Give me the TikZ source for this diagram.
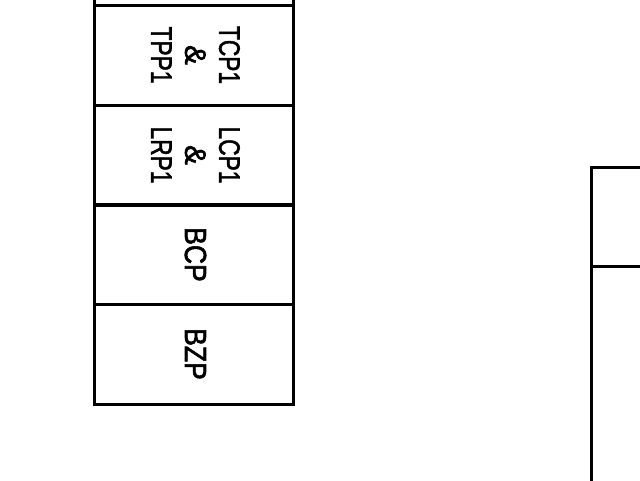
\documentclass[tikz,border=0pt]{standalone}
\usepackage{fontspec}
\setmainfont{Liberation Sans}
\newfontfamily\heavy{Liberation Sans}[FakeBold=2]
\newcommand\tallt[1]{\scalebox{1}[1.3]{#1}}
\begin{document}
\begin{tikzpicture}[x=1pt,y=-1pt,
  cell/.style={draw,line width=3pt,minimum width=199pt,minimum height=100pt,inner sep=0pt},
  vlab/.style={rotate=-90,inner sep=0pt,align=center},
  twolab/.style={vlab,font=\heavy\fontsize{22.7}{34}\selectfont},
  onelab/.style={vlab,font=\heavy\fontsize{26.5}{30}\selectfont}]
\useasboundingbox (0,0) rectangle (640,480);
\clip (0,0) rectangle (640,480);
\fill[white] (0,0) rectangle (640,480);
\node[cell] (c0) at (193.5,-45) {};
\node[cell] (c1) at (193.5,55) {};
\node[cell] (c2) at (193.5,155) {};
\node[cell] (c3) at (193.5,254.5) {};
\node[cell] (c4) at (193.5,354) {};
\node[twolab] (t1) at ([xshift=2pt]c1.center) {\tallt{TCP1}\\\scalebox{1.3}{\&}\\\tallt{TPP1}};
\node[twolab] (t2) at ([xshift=2pt]c2.center) {\tallt{LCP1}\\\scalebox{1.3}{\&}\\\tallt{LRP1}};
\node[onelab] (t3) at ([xshift=2pt]c3.center) {\scalebox{1}[1.15]{BCP}};
\node[onelab] (t4) at ([xshift=2pt]c4.center) {\scalebox{1}[1.15]{BZP}};
\draw[line width=3pt] (591,167) rectangle (720,560);
\draw[line width=3pt] (591,266) -- (720,266);
\end{tikzpicture}
\end{document}
